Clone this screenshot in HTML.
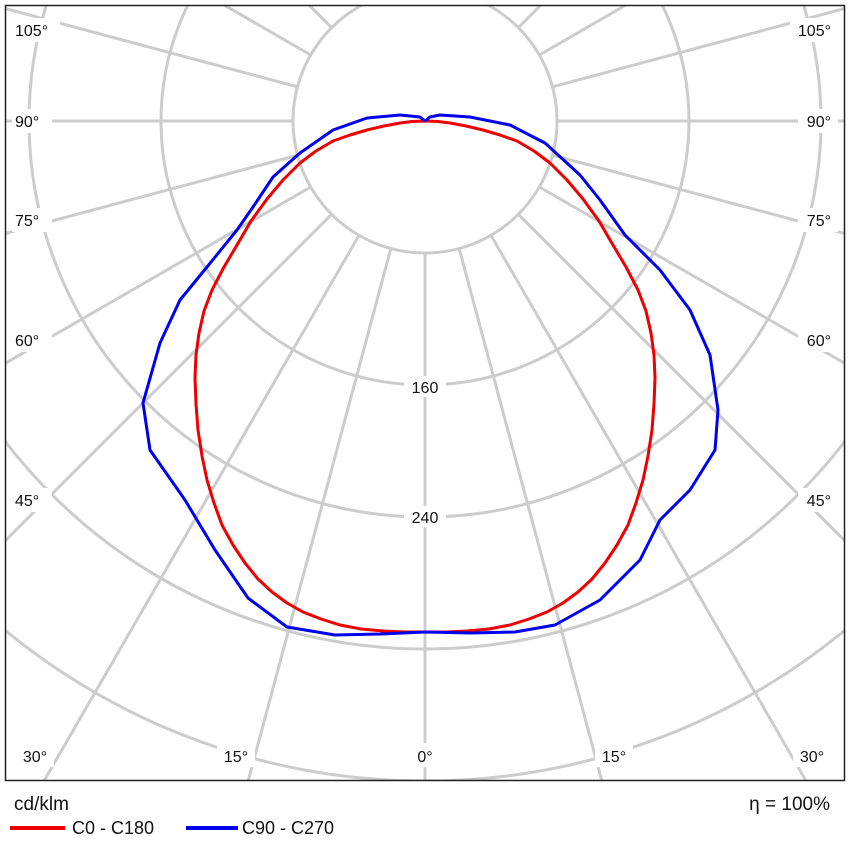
<!DOCTYPE html>
<html><head><style>html,body{margin:0;background:#fff;overflow:hidden;width:848px;height:848px}svg{display:block}</style></head><body>
<svg width="848" height="848" xmlns="http://www.w3.org/2000/svg" font-family="Liberation Sans, sans-serif">
<defs><clipPath id="c"><rect x="6" y="6" width="838" height="774"/></clipPath></defs>
<g clip-path="url(#c)">
<g stroke="#cccccc" stroke-width="3" fill="none">
<circle cx="425" cy="121" r="132"/><circle cx="425" cy="121" r="264"/><circle cx="425" cy="121" r="396"/><circle cx="425" cy="121" r="528"/><circle cx="425" cy="121" r="660"/>
<g id="rl">
<line x1="425" y1="253" x2="425" y2="1000"/>
</g>
<use href="#rl" transform="rotate(15 425 121)"/><use href="#rl" transform="rotate(30 425 121)"/><use href="#rl" transform="rotate(45 425 121)"/><use href="#rl" transform="rotate(60 425 121)"/><use href="#rl" transform="rotate(75 425 121)"/><use href="#rl" transform="rotate(90 425 121)"/><use href="#rl" transform="rotate(105 425 121)"/><use href="#rl" transform="rotate(120 425 121)"/><use href="#rl" transform="rotate(135 425 121)"/><use href="#rl" transform="rotate(150 425 121)"/><use href="#rl" transform="rotate(165 425 121)"/>
<use href="#rl" transform="rotate(-15 425 121)"/><use href="#rl" transform="rotate(-30 425 121)"/><use href="#rl" transform="rotate(-45 425 121)"/><use href="#rl" transform="rotate(-60 425 121)"/><use href="#rl" transform="rotate(-75 425 121)"/><use href="#rl" transform="rotate(-90 425 121)"/><use href="#rl" transform="rotate(-105 425 121)"/><use href="#rl" transform="rotate(-120 425 121)"/><use href="#rl" transform="rotate(-135 425 121)"/><use href="#rl" transform="rotate(-150 425 121)"/><use href="#rl" transform="rotate(-165 425 121)"/>
</g>
<g font-size="16" fill="#111">
<g fill="#fff"><rect x="12" y="18" width="48" height="24"/><rect x="12" y="109" width="40" height="24"/><rect x="12" y="208" width="40" height="24"/><rect x="12" y="328" width="40" height="24"/><rect x="12" y="488" width="40" height="24"/><rect x="16" y="743" width="38" height="24"/><rect x="217" y="743" width="38" height="24"/><rect x="411" y="743" width="30" height="24"/><rect x="595" y="743" width="38" height="24"/><rect x="793" y="743" width="38" height="24"/>
<rect x="790" y="18" width="48" height="24"/><rect x="798" y="109" width="40" height="24"/><rect x="798" y="208" width="40" height="24"/><rect x="798" y="328" width="40" height="24"/><rect x="798" y="488" width="40" height="24"/><rect x="404" y="376" width="42" height="21"/><rect x="404" y="506" width="42" height="21"/></g>
<text x="15" y="36">105°</text><text x="15" y="127">90°</text><text x="15" y="226">75°</text><text x="15" y="346">60°</text><text x="15" y="506">45°</text>
<g text-anchor="end"><text x="831" y="36">105°</text><text x="831" y="127">90°</text><text x="831" y="226">75°</text><text x="831" y="346">60°</text><text x="831" y="506">45°</text></g>
<g text-anchor="middle"><text x="35" y="762">30°</text><text x="236" y="762">15°</text><text x="425" y="762">0°</text><text x="614" y="762">15°</text><text x="812" y="762">30°</text><text x="425" y="393">160</text><text x="425" y="523">240</text></g>
</g>
<g fill="none" stroke-width="3" stroke-linejoin="round">
<polyline stroke="#ee0000" points="425,121 412,121.5 400,123 384,126 367,130 350,135 333,141 316,151 300,163 283,180 267,199 251,221 237,245 224,267 212,290 204,311 199,333 196,355 195,378 196,404 198,430 202,456 207,480 214,503 222,525 233,545 245,563 258,579 272,592 287,603 303,612 321,619 340,625 361,629 383,631 404,632 425,632 446,632 467,631 489,629 510,625 529,619 547,612 563,603 578,592 592,579 605,563 617,545 628,525 636,503 643,480 648,456 652,430 654,404 655,378 654,355 651,333 646,311 638,290 626,267 613,245 599,221 583,199 567,180 550,163 534,151 517,141 500,135 483,130 466,126 450,123 438,121.5 425,121"/>
<polyline stroke="#0000ee" points="425,121 420,117 400,115 367,118 333,130 300,153 273,177 253,207 237,230 207,267 180,300 160,343 143,403 150,450 185,500 215,550 248,598 287,627 335,635 380,634 425,632 470,633 515,632 555,625 600,600 640,560 660,520 690,490 715,450 718,410 710,355 690,310 660,270 625,235 600,200 580,175 545,143 510,125 470,117 440,115 430,117 425,121"/>
</g>
</g>
<rect x="5.5" y="5.5" width="839" height="775" fill="none" stroke="#222" stroke-width="1.5"/>
<g fill="#111"><text x="14" y="810" font-size="19">cd/klm</text><text x="830" y="810" text-anchor="end" font-size="19">η = 100%</text>
<text x="72" y="834" font-size="18">C0 - C180</text><text x="242" y="834" font-size="18">C90 - C270</text></g>
<line x1="10" y1="828" x2="65" y2="828" stroke="#ee0000" stroke-width="4"/>
<line x1="186" y1="828" x2="238" y2="828" stroke="#0000ee" stroke-width="4"/>
</svg>
</body></html>
